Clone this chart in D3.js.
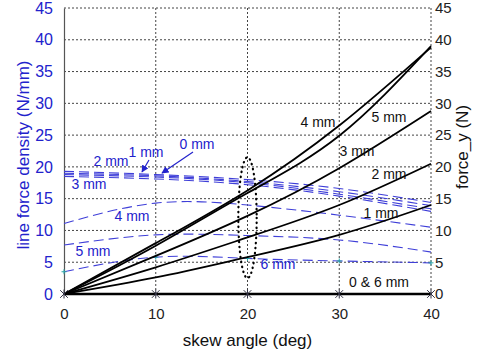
<!DOCTYPE html>
<html>
<head>
<meta charset="utf-8">
<script src="https://cdn.jsdelivr.net/npm/d3@7"></script>
<style>
  body { margin: 0; background: #fff; }
  svg { display: block; font-family: "Liberation Sans", Arial, sans-serif; }
</style>
</head>
<body>
<svg id="chart" width="479" height="356"></svg>
<script>
// skew angle samples (deg)
const angles = [0, 10, 20, 30, 40];
const xTicks = [0, 10, 20, 30, 40];
const yTicks = [0, 5, 10, 15, 20, 25, 30, 35, 40, 45];

// line force density (N/mm), blue dashed, left axis
const density0 = [19.3, 18.8, 18.0, 16.6, 14.4];
const density1 = [19.0, 18.6, 17.7, 16.1, 13.9];
const density2 = [18.8, 18.4, 17.5, 15.7, 13.4];
const density3 = [18.5, 18.1, 17.2, 15.4, 13.0];
const density4 = [11.1, 14.3, 14.0, 12.4, 10.5];
const density5 = [7.7, 9.3, 9.2, 8.5, 6.6];
const density6 = [3.5, 5.8, 5.6, 5.2, 4.9];

// force_y (N), black solid, right axis
const force0 = [0, 0, 0, 0, 0];
const force1 = [0, 2.6, 5.8, 9.3, 14.0];
const force2 = [0, 4.2, 8.9, 14.0, 20.5];
const force3 = [0, 6.0, 12.3, 19.8, 28.8];
const force4 = [0, 8.0, 16.3, 26.5, 38.8];
const force5 = [0, 7.6, 15.9, 24.9, 39.0];

const blueDensity = [density0, density1, density2, density3, density4, density5, density6];
const blackForce = [force1, force2, force3, force4, force5];

const margin = { top: 8, right: 48, bottom: 62, left: 64 };
const width = 479, height = 356;
const svg = d3.select("#chart");

const x = d3.scaleLinear().domain([0, 40]).range([margin.left, width - margin.right]);
const yL = d3.scaleLinear().domain([0, 45]).range([height - margin.bottom, margin.top]);
const yR = d3.scaleLinear().domain([0, 45]).range([height - margin.bottom, margin.top]);

const blueText = "#2222cc";
const blueLine = "#3f3fd8";

// grid (dotted)
const grid = svg.append("g").attr("stroke", "#444").attr("stroke-width", 1)
  .attr("stroke-dasharray", "2,2");
yTicks.filter(d => d > 0).forEach(t => {
  grid.append("line").attr("x1", x(0)).attr("x2", x(40)).attr("y1", yL(t)).attr("y2", yL(t));
});
xTicks.filter(d => d > 0).forEach(t => {
  grid.append("line").attr("x1", x(t)).attr("x2", x(t)).attr("y1", yL(0)).attr("y2", yL(45));
});

// left axis
svg.append("g")
  .attr("transform", `translate(${x(0)},0)`)
  .call(d3.axisLeft(yL).tickValues(yTicks).tickSize(0).tickPadding(11))
  .call(g => g.select(".domain").attr("stroke", "#555").attr("stroke-width", 1.2))
  .call(g => g.selectAll("text").attr("fill", blueText).style("font-size", "16px"));

// right axis
svg.append("g")
  .attr("transform", `translate(${x(40)},0)`)
  .call(d3.axisRight(yR).tickValues(yTicks).tickSize(0).tickPadding(4))
  .call(g => g.select(".domain").remove())
  .call(g => g.selectAll("text").attr("fill", "#222").style("font-size", "15px"));

// bottom axis
svg.append("g")
  .attr("transform", `translate(0,${yL(0)})`)
  .call(d3.axisBottom(x).tickValues(xTicks).tickSize(0).tickPadding(14))
  .call(g => g.select(".domain").remove())
  .call(g => g.selectAll("text").attr("fill", "#222").style("font-size", "15px"));

// axis titles
svg.append("text")
  .attr("transform", `translate(25,${(yL(0) + yL(45)) / 2 + 4}) rotate(-90)`)
  .attr("text-anchor", "middle").attr("dominant-baseline", "middle")
  .attr("fill", blueText).style("font-size", "17px")
  .text("line force density (N/mm)");
svg.append("text")
  .attr("transform", `translate(464,147) rotate(-90)`)
  .attr("text-anchor", "middle").attr("dominant-baseline", "middle")
  .attr("fill", "#111").style("font-size", "17px")
  .text("force_y (N)");
svg.append("text")
  .attr("x", x(20)).attr("y", 346)
  .attr("text-anchor", "middle")
  .attr("fill", "#111").style("font-size", "17px")
  .text("skew angle (deg)");

const lineL = d3.line().x((d, i) => x(angles[i])).y(d => yL(d)).curve(d3.curveNatural);
const lineR = d3.line().x((d, i) => x(angles[i])).y(d => yR(d)).curve(d3.curveNatural);

// blue dashed density curves
svg.append("g").selectAll("path")
  .data(blueDensity).join("path")
  .attr("d", lineL)
  .attr("fill", "none").attr("stroke", blueLine).attr("stroke-width", 1.1)
  .attr("stroke-dasharray", "10,5");

// cyan markers on 6 mm curve
svg.append("g").selectAll("path")
  .data(density6).join("path")
  .attr("d", (d, i) => {
    const cx = x(angles[i]), cy = yL(d);
    return `M${cx - 2.5},${cy}H${cx + 2.5}M${cx},${cy - 2.5}V${cy + 2.5}`;
  })
  .attr("stroke", "#2aa6a6").attr("stroke-width", 1);

// black force curves
svg.append("g").selectAll("path")
  .data(blackForce).join("path")
  .attr("d", lineR)
  .attr("fill", "none").attr("stroke", "#000").attr("stroke-width", 1.8);

// 0 & 6 mm line along the bottom
svg.append("path")
  .attr("d", d3.line().x((d, i) => x(angles[i])).y(d => yR(d))(force0))
  .attr("fill", "none").attr("stroke", "#000").attr("stroke-width", 2.4);

// asterisk markers on 0 & 6 mm line
const star = d3.symbol().type(d3.symbolTimes).size(40);
svg.append("g").selectAll("g")
  .data(force0).join("g")
  .attr("transform", (d, i) => `translate(${x(angles[i])},${yR(d)})`)
  .call(g => g.append("path").attr("d", star).attr("stroke", "#334").attr("stroke-width", 1).attr("fill", "none"))
  .call(g => g.append("line").attr("x1", 0).attr("x2", 0).attr("y1", -4.5).attr("y2", 4.5)
    .attr("stroke", "#334").attr("stroke-width", 1));

// dotted ellipse around 20 deg
svg.append("ellipse")
  .attr("cx", x(20)).attr("cy", yL(12))
  .attr("rx", x(21) - x(20)).attr("ry", yL(2.5) - yL(12))
  .attr("fill", "none").attr("stroke", "#000").attr("stroke-width", 2.2)
  .attr("stroke-linecap", "round").attr("stroke-dasharray", "0.5,4.5");

// blue labels
const blueLabels = [
  { t: "0 mm", x: 197, y: 145 },
  { t: "1 mm", x: 146, y: 153 },
  { t: "2 mm", x: 111, y: 162 },
  { t: "3 mm", x: 89, y: 185 },
  { t: "4 mm", x: 132, y: 217 },
  { t: "5 mm", x: 93, y: 252 },
  { t: "6 mm", x: 278, y: 265 }
];
svg.append("g").selectAll("text")
  .data(blueLabels).join("text")
  .attr("x", d => d.x).attr("y", d => d.y)
  .attr("text-anchor", "middle").attr("dominant-baseline", "middle")
  .attr("fill", blueText).style("font-size", "14px")
  .text(d => d.t);

// arrows
const arrows = [
  { x1: 193, y1: 152, x2: 162, y2: 173 },
  { x1: 149, y1: 160, x2: 142, y2: 172 }
];
svg.append("defs").append("marker")
  .attr("id", "ah").attr("viewBox", "0 0 10 10").attr("refX", 9).attr("refY", 5)
  .attr("markerWidth", 6).attr("markerHeight", 6).attr("orient", "auto")
  .append("path").attr("d", "M0,0L10,5L0,10Z").attr("fill", blueText);
svg.append("g").selectAll("line")
  .data(arrows).join("line")
  .attr("x1", d => d.x1).attr("y1", d => d.y1).attr("x2", d => d.x2).attr("y2", d => d.y2)
  .attr("stroke", blueText).attr("stroke-width", 1.2).attr("marker-end", "url(#ah)");

// black labels
const blackLabels = [
  { t: "4 mm", x: 318, y: 123 },
  { t: "5 mm", x: 389, y: 118 },
  { t: "3 mm", x: 357, y: 152 },
  { t: "2 mm", x: 389, y: 175 },
  { t: "1 mm", x: 381, y: 214 },
  { t: "0 & 6 mm", x: 379, y: 283 }
];
svg.append("g").selectAll("text")
  .data(blackLabels).join("text")
  .attr("x", d => d.x).attr("y", d => d.y)
  .attr("text-anchor", "middle").attr("dominant-baseline", "middle")
  .attr("fill", "#111").style("font-size", "14px")
  .text(d => d.t);
</script>
</body>
</html>
